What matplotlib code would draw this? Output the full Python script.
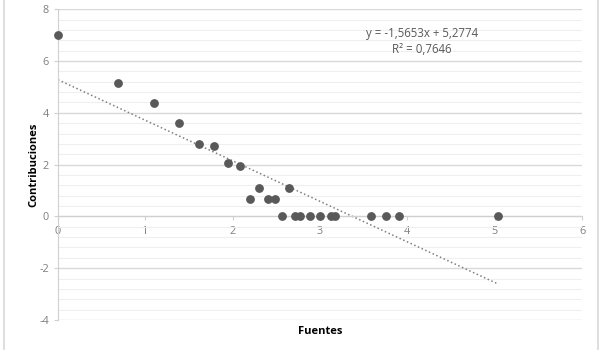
import matplotlib.pyplot as plt
from matplotlib.lines import Line2D
import numpy as np

# datos
fuentes = [0.00, 0.69, 1.10, 1.39, 1.61, 1.79, 1.95, 2.08, 2.20, 2.30, 2.40, 2.49,
           2.56, 2.64, 2.71, 2.77, 2.89, 3.00, 3.13, 3.17, 3.58, 3.76, 3.91, 5.04]
contribuciones = [7.00, 5.16, 4.38, 3.62, 2.81, 2.70, 2.07, 1.93, 0.69, 1.10, 0.69, 0.69,
                  0.00, 1.10, 0.00, 0.00, 0.00, 0.00, 0.00, 0.00, 0.00, 0.00, 0.00, 0.00]

# línea de tendencia
pendiente = -1.5653
intercepto = 5.2774
r2 = 0.7646

x_ticks = [0, 1, 2, 3, 4, 5, 6]
y_ticks = [-4, -2, 0, 2, 4, 6, 8]

plt.rcParams['font.family'] = ['Open Sans', 'DejaVu Sans']

fig = plt.figure(figsize=(6.02, 3.5), dpi=100)
ax = fig.add_axes([0.0963, 0.0857, 0.8705, 0.888])

# rejilla
ax.set_yticks(np.arange(-4, 8.01, 0.4), minor=True)
ax.grid(which='major', axis='y', color='#d9d9d9', linewidth=1.0)
ax.grid(which='minor', axis='y', color='#efefef', linewidth=0.8)
ax.set_axisbelow(True)

# puntos
ax.plot(fuentes, contribuciones, 'o', color='#595959', markersize=5.3, zorder=3,
        clip_on=False)

# tendencia lineal
xt = np.array([min(fuentes), max(fuentes)])
ax.plot(xt, pendiente * xt + intercepto, ':', color='#7f7f7f', linewidth=1.1, zorder=2)

ax.text(4.17, 7.05, 'y = -1,5653x + 5,2774', fontsize=8.3, color='#595959',
        ha='center', va='center')
ax.text(4.17, 6.45, 'R² = {:.4f}'.format(r2).replace('.', ','), fontsize=8.3,
        color='#595959', ha='center', va='center')

ax.set_xlim(0, 6)
ax.set_ylim(-4, 8)
ax.set_xticks(x_ticks)
ax.set_yticks(y_ticks)
ax.set_xticklabels([str(v) for v in x_ticks])
ax.set_yticklabels([str(v) for v in y_ticks])

# ejes al estilo Excel
for s in ['top', 'right']:
    ax.spines[s].set_visible(False)
ax.spines['bottom'].set_position(('data', 0))
ax.spines['bottom'].set_color('#d0d0d0')
ax.spines['left'].set_color('#d0d0d0')
ax.tick_params(axis='both', which='major', colors='#d0d0d0', labelcolor='#7f7f7f',
               labelsize=7.8, length=3)
ax.tick_params(axis='y', which='minor', left=False)
ax.tick_params(axis='x', pad=4)

ax.set_xlabel('Fuentes', fontsize=8, fontweight='bold')
ax.xaxis.set_label_coords(0.5, -0.02)
ax.set_ylabel('Contribuciones', fontsize=8, fontweight='bold')
ax.yaxis.set_label_coords(-0.036, 0.5)

# borde del área del gráfico
fig.add_artist(Line2D([0.006, 0.006], [0.0, 1.0], color='#d9d9d9', linewidth=1.2))
fig.add_artist(Line2D([0.993, 0.993], [0.0, 1.0], color='#d9d9d9', linewidth=1.2))

fig.savefig('out.png', dpi=100)
